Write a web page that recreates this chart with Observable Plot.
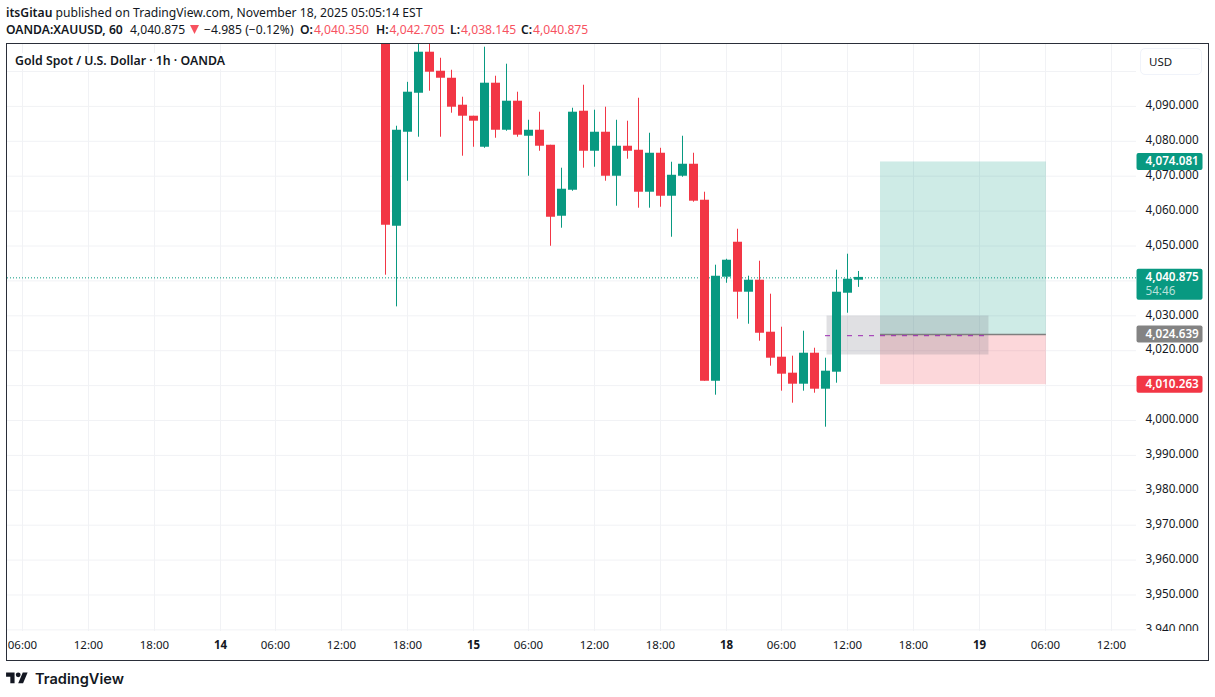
<!DOCTYPE html>
<html><head><meta charset="utf-8">
<script src="https://cdn.jsdelivr.net/npm/d3@7"></script>
<script src="https://cdn.jsdelivr.net/npm/@observablehq/plot@0.6"></script>
<style>
html,body{margin:0;padding:0;background:#fff;width:1215px;height:697px;overflow:hidden;font-family:"Noto Sans",sans-serif;color:#131722}
.t{position:absolute;white-space:nowrap;font-size:12.15px;line-height:16px}
b{font-weight:600}
.r{color:#f7525f}
#pane{position:absolute;left:6px;top:43px;width:1203px;height:618px;box-sizing:border-box;border:1px solid #2a2e39;overflow:hidden}
#pane svg{display:block;font-family:"Noto Sans",sans-serif}
#usd{position:absolute;left:1140px;top:48px;width:62px;height:27px;box-sizing:border-box;border:1px solid #f0f3fa;border-radius:5px;font-size:11.5px;line-height:26px;padding-left:8px;background:#fff}
</style></head><body>
<div class="t" style="left:6px;top:5px"><b>itsGitau</b> published on TradingView.com, November 18, 2025 05:05:14 EST</div>
<div class="t" style="left:6px;top:22px"><b>OANDA:XAUUSD, 60</b></div>
<div class="t" style="left:130px;top:22px">4,040.875</div>
<svg style="position:absolute;left:190px;top:25px" width="9" height="9" viewBox="0 0 9 9"><path fill="#f7525f" d="M0 0h9L4.5 9z"/></svg>
<div class="t" style="left:204px;top:22px">−4.985 (−0.12%)</div>
<div class="t" style="left:300px;top:22px"><b>O:</b><span class="r" style="margin-left:1px">4,040.350</span></div>
<div class="t" style="left:376px;top:22px"><b>H:</b><span class="r" style="margin-left:1px">4,042.705</span></div>
<div class="t" style="left:450px;top:22px"><b>L:</b><span class="r" style="margin-left:1px">4,038.145</span></div>
<div class="t" style="left:521px;top:22px"><b>C:</b><span class="r" style="margin-left:1px">4,040.875</span></div>
<div id="pane"></div>
<div class="t" style="left:15px;top:53px;font-size:12.3px;font-weight:600;background:#fff">Gold Spot / U.S. Dollar · 1h · OANDA</div>
<div id="usd">USD</div>
<svg style="position:absolute;left:6px;top:670px" width="22" height="17" viewBox="0 0 36 28"><path fill="#131722" d="M14 22H7V11H0V4h14v18zM28 22h-8l7.5-18h8L28 22z"/><circle fill="#131722" cx="20" cy="8" r="4"/></svg>
<div class="t" style="left:35px;top:668.5px;font-family:Inter,sans-serif;font-size:14.6px;line-height:20px;font-weight:600">TradingView</div>
<script>
const firstBar = 33;
const opens = [4125,4055.67,4082.6,4093.77,4105.53,4100.08,4098.07,4090.34,4087.19,4078.3,4096.65,4083.17,4091.49,4081.45,4083.17,4078.87,4058.53,4065.98,4088.62,4077.15,4082.6,4069.99,4078.59,4077.44,4065.41,4076.58,4064.26,4069.99,4073.43,4063.12,4011.26,4041.06,4051.08,4036.76,4040.2,4025.3,4018.14,4013.56,4010.4,4019.28,4008.97,4013.84,4036.47,4040.2];
const closes = [4055.96,4083.17,4094.07,4105.53,4099.8,4098.07,4089.77,4087.19,4085.76,4096.65,4083.17,4091.49,4081.75,4083.17,4078.59,4058.24,4066.27,4088.34,4077.15,4082.6,4069.99,4078.59,4077.15,4065.41,4076.58,4064.26,4070.27,4073.43,4062.84,4011.26,4041.35,4045.93,4036.76,4040.2,4025.0,4017.85,4013.27,4010.4,4019.28,4008.97,4014.13,4036.76,4040.49,4041];
const highs = [4130,4084.32,4096.9,4110,4110,4103.8,4100.36,4092.63,4087.19,4106.96,4098.65,4102.09,4094.07,4086.03,4088.34,4078.87,4072.29,4089.48,4096.07,4088.91,4089.77,4086.03,4085.76,4092.34,4082.31,4078,4074,4081.45,4076.58,4065.41,4044.5,4046.2,4054.81,4041.35,4045.64,4036.19,4026.73,4018.43,4025.58,4020.71,4017.85,4043.07,4047.65,4042.705];
const lows = [4041.63,4032.56,4068.56,4081.17,4094.35,4081.17,4088.05,4075.73,4078.3,4078,4080.88,4082.88,4081.17,4069.99,4077.15,4049.93,4055.1,4065.69,4072.29,4072.57,4068.56,4061.4,4074.87,4060.83,4060.83,4061.11,4052.51,4069.7,4062.55,4011.26,4007.25,4039.33,4029.03,4027.59,4022.72,4015.56,4008.4,4004.96,4008.4,4007.82,3998.08,4010.69,4030.74,4038.145];

const hourTicks = [0,6,12,23,29,35,46,52,58,69,75,81,93,99];
const hourLabels = ["06:00","12:00","18:00","06:00","12:00","18:00","06:00","12:00","18:00","06:00","12:00","18:00","06:00","12:00"];
const dayTicks = [18,41,64,87];
const dayLabels = ["14","15","18","19"];
const gridPrices = d3.range(3940,4101,10);
const labelPrices = [4090,4080,4070,4060,4050,4030,4020,4000,3990,3980,3970,3960,3950,3940];

const lastPrice = 4040.875, target = 4074.081, entry = 4024.639, stop = 4010.263;
const longStart = 78, longEnd = 93.08;
const zoneStart = 73.14, zoneEnd = 87.86, zoneTop = 4029.94, zoneBottom = 4018.77;
const dashPrice = 4024.3, dashStart = 73, dashEnd = 88;
const green = "#089981", red = "#f23645", gray = "#838383", gridColor = "#f1f2f5";

const bars = opens.map((o,i)=>({i:firstBar+i,o,c:closes[i],h:highs[i],l:lows[i]}));
const priceTags = [
  {p:target,fill:green,text:"4,074.081"},
  {p:entry,fill:gray,text:"4,024.639"},
  {p:stop,fill:red,text:"4,010.263"}
];
const xDom = [-15/11, 1114/11], yDom = [3939.54, 4107.74];
const tagL = 101.32, tagR = 107.32;

const chart = Plot.plot({
  width:1201,height:616,marginLeft:0,marginRight:72,marginTop:0,marginBottom:29,
  x:{domain:xDom,axis:null},
  y:{domain:yDom,axis:null},
  style:{background:"transparent",fontFamily:'"Noto Sans",sans-serif'},
  marks:[
    Plot.gridX(hourTicks.concat(dayTicks),{stroke:gridColor,strokeOpacity:1}),
    Plot.gridY(gridPrices,{stroke:gridColor,strokeOpacity:1}),
    Plot.ruleY([lastPrice],{stroke:green,strokeDasharray:"1,2"}),
    Plot.rect([0],{x1:longStart,x2:longEnd,y1:entry,y2:target,fill:green,fillOpacity:.2}),
    Plot.rect([0],{x1:longStart,x2:longEnd,y1:stop,y2:entry,fill:red,fillOpacity:.2}),
    Plot.rect([0],{x1:zoneStart,x2:zoneEnd,y1:zoneBottom,y2:zoneTop,fill:"#787b86",fillOpacity:.23}),
    Plot.ruleY([entry],{x1:longStart,x2:longEnd,stroke:"#7f7f7f",strokeWidth:1.3}),
    Plot.ruleY([dashPrice],{x1:dashStart,x2:dashEnd,stroke:"#9c27b0",strokeWidth:1,strokeDasharray:"5,6"}),
    Plot.ruleX(bars,{x:"i",y1:"l",y2:"h",stroke:d=>d.c>=d.o?green:red,strokeWidth:1,clip:true}),
    Plot.ruleX(bars,{x:"i",y1:"o",y2:"c",stroke:d=>d.c>=d.o?green:red,strokeWidth:9,clip:true}),
    Plot.text(labelPrices,{y:d=>d,text:d=>d3.format(",.3f")(d),frameAnchor:"right",textAnchor:"start",dx:9,dy:-1,fontSize:11.7,fill:"#131722"}),
    Plot.rect([0],{x1:xDom[1],x2:tagR+1,y1:yDom[0],y2:3931,fill:"#fff"}),
    Plot.rect(priceTags,{x1:tagL,x2:tagR,y1:"p",y2:"p",insetTop:-8.5,insetBottom:-8.5,fill:"fill",rx:2}),
    Plot.rect([lastPrice],{x1:tagL,x2:tagR,y1:d=>d,y2:d=>d,insetTop:-8.5,insetBottom:-22.5,fill:green,rx:2}),
    Plot.text(priceTags,{y:"p",text:"text",frameAnchor:"right",textAnchor:"start",dx:9,dy:-0.5,fontSize:11.7,fontWeight:600,fill:"#fff"}),
    Plot.text([lastPrice],{y:d=>d,text:()=>"4,040.875",frameAnchor:"right",textAnchor:"start",dx:9,dy:-0.5,fontSize:11.7,fontWeight:600,fill:"#fff"}),
    Plot.text([lastPrice],{y:d=>d,text:()=>"54:46",frameAnchor:"right",textAnchor:"start",dx:9,dy:13.5,fontSize:11.7,fill:"#fff",fillOpacity:.72}),
    Plot.text(hourTicks,{x:d=>d,text:(d,i)=>hourLabels[i],frameAnchor:"bottom",lineAnchor:"middle",dy:14,fontSize:11.5,fill:"#131722"}),
    Plot.text(dayTicks,{x:d=>d,text:(d,i)=>dayLabels[i],frameAnchor:"bottom",lineAnchor:"middle",dy:14,fontSize:11.5,fontWeight:700,fill:"#131722"})
  ]
});
document.getElementById("pane").append(chart);
</script>
</body></html>
